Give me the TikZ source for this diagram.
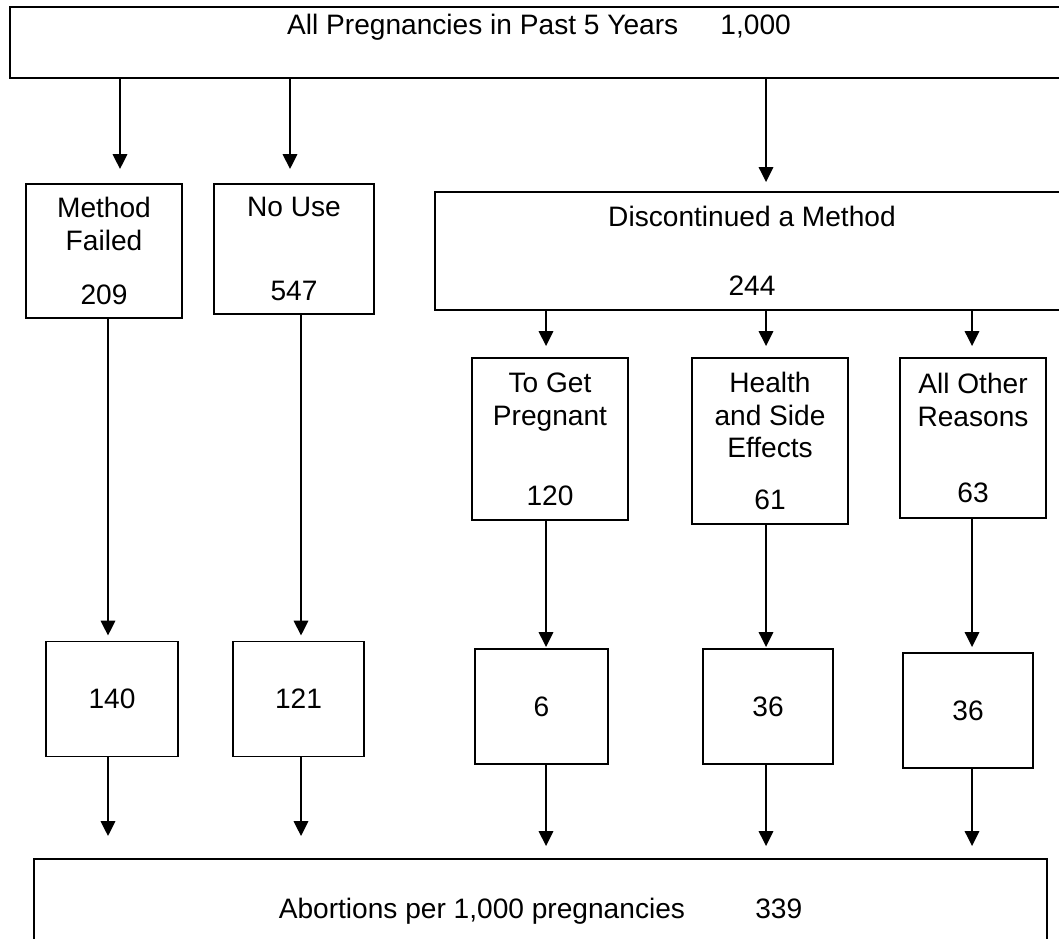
\documentclass[tikz,border=0pt]{standalone}
\usepackage{fontspec}
\setmainfont{Liberation Sans}
\usetikzlibrary{arrows.meta}

\begin{document}
\begin{tikzpicture}[x=0.02cm,y=-0.02cm,
  box/.style={draw,line width=1.1pt,align=center,inner sep=0pt,font=\fontsize{16}{18.7}\selectfont},
  arr/.style={line width=1pt,-{Triangle[width=0.29cm,length=0.3cm]}}]
%\draw[help lines] (0,0) grid (1059,939);
\path[use as bounding box,clip] (0,0) rectangle (1059,939);
%
\node[box,minimum width=21.16cm,text height=0.56cm,text depth=0.86cm] (all) at (539,42.5)
  {All Pregnancies in Past 5 Years\hspace{1.5em}1,000};
\node[box,minimum width=3.12cm,minimum height=2.68cm] (fail) at (104,251) {Method\\Failed\\[0.41cm]209};
\node[box,minimum width=3.2cm,minimum height=2.6cm] (nouse) at (294,249) {No Use\\[1.03cm]547};
\node[box,minimum width=12.68cm,minimum height=2.36cm] (disc) at (752,251) {Discontinued a Method\\[0.73cm]244};
%
\node[box,minimum width=3.12cm,minimum height=3.24cm] (preg) at (550,439) {To Get\\Pregnant\\[0.94cm]120};
\node[box,minimum width=3.12cm,minimum height=3.32cm] (health) at (770,441) {Health\\and Side\\Effects\\[0.38cm]61};
\node[box,minimum width=2.92cm,minimum height=3.2cm] (other) at (973,438) {All Other\\Reasons\\[0.86cm]63};
%
\foreach \x/\y/\w/\n/\v in {112/699/2.64/r1/140,298.5/699/2.62/r2/121,541.5/706.5/2.66/r3/6,768/706.5/2.6/r4/36,968/710.5/2.6/r5/36}
  \node[box,minimum width=\w cm,minimum height=2.3cm] (\n) at (\x,\y) {\v};
%
\node[box,minimum width=20.26cm,minimum height=2.08cm] (abort) at (540.5,911)
  {Abortions per 1,000 pregnancies\hspace{2.5em}339};
%
\foreach \x/\b/\g in {120/fail/0.28,290/nouse/0.28,766/disc/0.18}
  \draw[arr,shorten >=\g cm] (\x,0 |- all.south) -- (\x,0 |- \b.north);
\foreach \x/\b in {546/preg,766/health,972/other}
  \draw[arr,shorten >=0.22cm] (\x,0 |- disc.south) -- (\x,0 |- \b.north);
\foreach \x/\a/\b/\g in {108/fail/r1/0.1,301/nouse/r2/0.1,546/preg/r3/0.02,766/health/r4/0.02,972/other/r5/0.1}
  \draw[arr,shorten >=\g cm] (\x,0 |- \a.south) -- (\x,0 |- \b.north);
\foreach \x/\a/\g in {108/r1/0.44,301/r2/0.44,546/r3/0.24,766/r4/0.24,972/r5/0.24}
  \draw[arr,shorten >=\g cm] (\x,0 |- \a.south) -- (\x,0 |- abort.north);
%
\end{tikzpicture}
\end{document}
